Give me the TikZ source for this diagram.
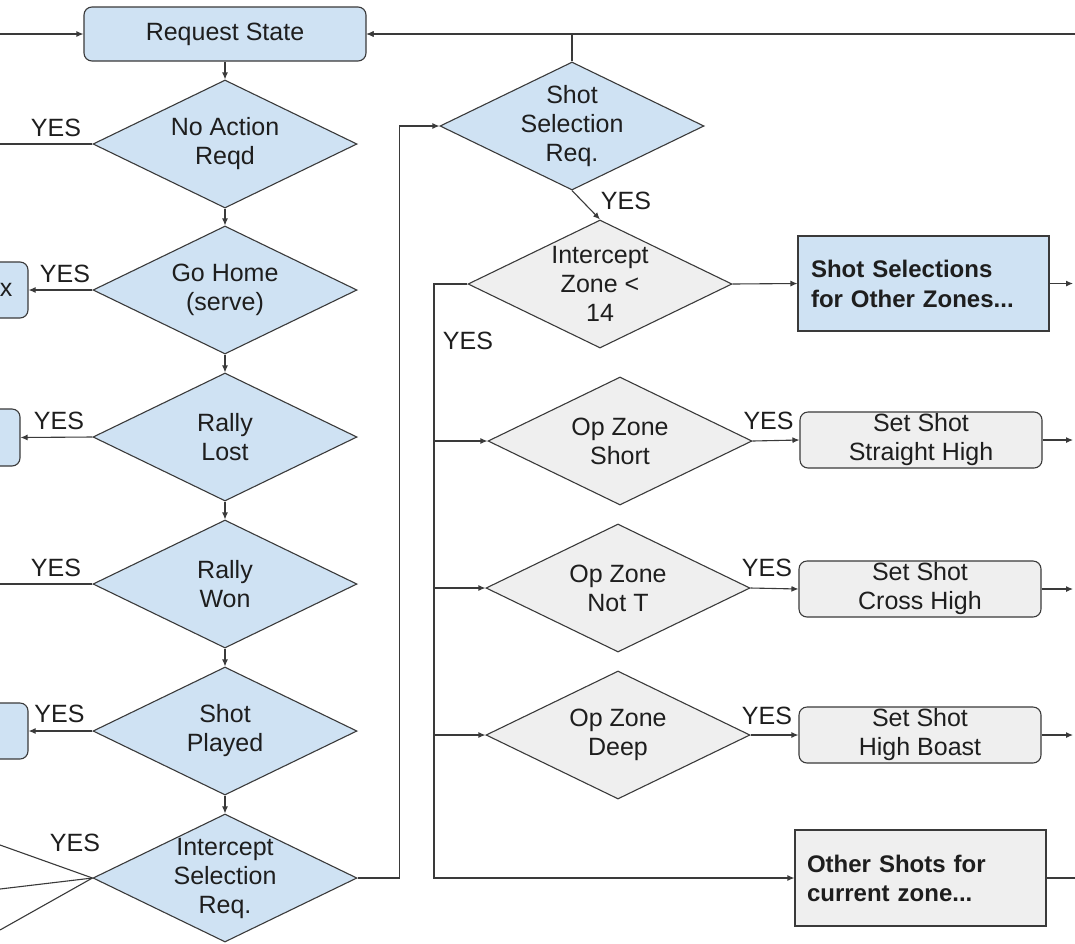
\documentclass[tikz,border=0pt]{standalone}
\usepackage{fontspec}
\setmainfont{Liberation Sans}
\usetikzlibrary{shapes.geometric,arrows.meta}
\definecolor{bluef}{HTML}{CFE2F3}
\definecolor{grayf}{HTML}{EFEFEF}
\definecolor{lncol}{HTML}{3A3A3A}
\definecolor{txtcol}{HTML}{1E1E1E}
\tikzset{
  txt/.style={font=\fontsize{25}{29}\selectfont, text=txtcol, inner sep=0pt},
  dtxt/.style={txt, align=center},
  dia/.style={shape=diamond, draw=lncol, line width=1.1pt, minimum width=264pt, minimum height=128pt, inner sep=0pt},
  diab/.style={dia, fill=bluef},
  diag/.style={dia, fill=grayf},
  rbox/.style={draw=lncol, line width=1.1pt, rounded corners=8pt, inner sep=0pt},
  sbox/.style={draw=lncol, line width=1.1pt, inner sep=0pt},
  conn/.style={draw=lncol, line width=1.1pt},
  arr/.style={conn, -{Latex[length=7pt,width=6pt]}},
  yes/.style={txt},
}
\begin{document}
\begin{tikzpicture}[x=1pt,y=-1pt]
\useasboundingbox (0,0) rectangle (1075,943);
\clip (0,0) rectangle (1075,943);
\fill[white] (0,0) rectangle (1075,943);

% top box
\node[rbox, fill=bluef, minimum width=282pt, minimum height=54pt, txt] (rs) at (225,34) {Request State};

% left column diamonds
\node[diab] (d1) at (225,144) {};
\node[dtxt] (d1t) at (d1) {No Action\\Reqd};
\node[diab] (d2) at (225,290) {};
\node[dtxt] (d2t) at (d2) {Go Home\\(serve)};
\node[diab] (d3) at (225,437) {};
\node[dtxt] (d3t) at (d3) {Rally\\Lost};
\node[diab] (d4) at (225,584) {};
\node[dtxt] (d4t) at (d4) {Rally\\Won};
\node[diab] (d5) at (225,731) {};
\node[dtxt] (d5t) at (d5) {Shot\\Played};
\node[diab] (d6) at (225,878) {};
\node[dtxt] (d6t) at (d6) {Intercept\\Selection\\Req.};

% partial boxes on the left edge
\node[rbox, fill=bluef, minimum width=120pt, minimum height=56pt] (lb1) at (-32,290) {};
\node[txt] (lb1t) at (6,290) {x};
\node[rbox, fill=bluef, minimum width=120pt, minimum height=57pt] (lb2) at (-40,437.5) {};
\node[rbox, fill=bluef, minimum width=120pt, minimum height=56pt] (lb3) at (-32,731) {};

% right column
\node[diab] (ss) at (572,126) {};
\node[dtxt] (sst) at (ss) {Shot\\Selection\\Req.};
\node[diag] (iz) at (600,284) {};
\node[dtxt] (izt) at (iz) {Intercept\\Zone <\\14};
\node[diag] (oz1) at (620,441) {};
\node[dtxt] (oz1t) at (oz1) {Op Zone\\Short};
\node[diag] (oz2) at (618,588) {};
\node[dtxt] (oz2t) at (oz2) {Op Zone\\Not T};
\node[diag] (oz3) at (618,735) {};
\node[dtxt] (oz3t) at (oz3) {Op Zone\\Deep};

\node[sbox, fill=bluef, minimum width=251pt, minimum height=95pt, text width=225pt, align=left, text=txtcol,
      font=\bfseries\fontsize{24}{30}\selectfont] (bsel) at (923.5,283.5) {Shot Selections\\for Other Zones...};
\node[rbox, fill=grayf, minimum width=242pt, minimum height=56pt, dtxt] (set1) at (921,440) {Set Shot\\Straight High};
\node[rbox, fill=grayf, minimum width=242pt, minimum height=56pt, dtxt] (set2) at (920,589) {Set Shot\\Cross High};
\node[rbox, fill=grayf, minimum width=242pt, minimum height=56pt, dtxt] (set3) at (920,735) {Set Shot\\High Boast};
\node[sbox, fill=grayf, minimum width=251pt, minimum height=96pt, text width=227pt, align=left, text=txtcol,
      font=\bfseries\fontsize{24}{29}\selectfont] (other) at (920.5,878) {Other Shots for\\current zone...};

% edge coordinates
\coordinate (inL) at (0,34);
\coordinate (inR) at (1075,34);
\coordinate (o1) at (0,144);
\coordinate (o4) at (0,584);
\coordinate (o6a) at (0,845);
\coordinate (o6b) at (0,889);
\coordinate (o6c) at (0,930);
\coordinate (e0) at (1073,283.5);
\coordinate (e1) at (1073,440);
\coordinate (e2) at (1073,589);
\coordinate (e3) at (1073,735);
\coordinate (e4) at (1075,878);
\coordinate (vtop) at (434,284);
\coordinate (vbot) at (434,878);

% connectors
\draw[arr] (inL) -- (rs.west);
\draw[arr] (inR) -- (rs.east);
\draw[arr] (ss.north) |- (rs.east);
\draw[arr] (rs.south) -- (d1.north);
\draw[arr] (d1.south) -- (d2.north);
\draw[arr] (d2.south) -- (d3.north);
\draw[arr] (d3.south) -- (d4.north);
\draw[arr] (d4.south) -- (d5.north);
\draw[arr] (d5.south) -- (d6.north);

\draw[conn] (d1.west) -- (o1);
\draw[arr] (d2.west) -- (lb1.east);
\draw[arr] (d3.west) -- (lb2.east);
\draw[conn] (d4.west) -- (o4);
\draw[arr] (d5.west) -- (lb3.east);
\draw[conn] (d6.west) -- (o6a);
\draw[conn] (d6.west) -- (o6b);
\draw[conn] (d6.west) -- (o6c);

\draw[arr] (d6.east) -- ++(42,0) |- (ss.west);
\draw[arr] (ss.south) -- (iz.north);
\draw[arr] (iz.east) -- (bsel.west);
\draw[arr] (bsel.east) -- (e0);
\draw[arr] (iz.west) -- (vtop) -- (vbot) -- (other.west);
\draw[arr] (vtop |- oz1.west) -- (oz1.west);
\draw[arr] (vtop |- oz2.west) -- (oz2.west);
\draw[arr] (vtop |- oz3.west) -- (oz3.west);
\draw[arr] (oz1.east) -- (set1.west);
\draw[arr] (oz2.east) -- (set2.west);
\draw[arr] (oz3.east) -- (set3.west);
\draw[arr] (set1.east) -- (e1);
\draw[arr] (set2.east) -- (e2);
\draw[arr] (set3.east) -- (e3);
\draw[conn] (other.east) -- (e4);

% YES labels
\node[yes] (y1) at (56,128) {YES};
\node[yes] (y2) at (65,274) {YES};
\node[yes] (y3) at (59,421) {YES};
\node[yes] (y4) at (56,567.5) {YES};
\node[yes] (y5) at (59.5,714) {YES};
\node[yes] (y6) at (75,842.5) {YES};
\node[yes] (y7) at (626,201) {YES};
\node[yes] (y8) at (468,341) {YES};
\node[yes] (y9) at (768.5,421) {YES};
\node[yes] (y10) at (767,568) {YES};
\node[yes] (y11) at (767,716) {YES};
\end{tikzpicture}
\end{document}
